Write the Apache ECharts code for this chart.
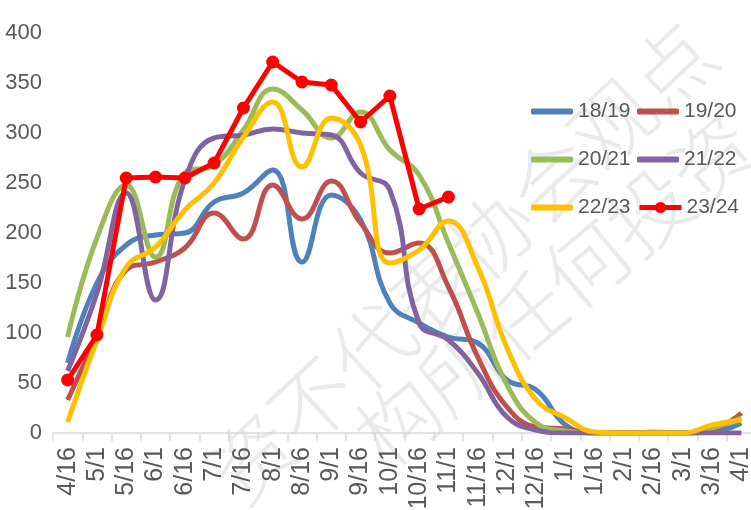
<!DOCTYPE html>
<html>
<head>
<meta charset="utf-8">
<script src="https://cdn.jsdelivr.net/npm/echarts@6/dist/echarts.min.js"></script>
<style>
body{margin:0;background:#fff;}
#chart{width:751px;height:510px;}
</style>
</head>
<body>
<div id="chart"></div>
<script>
// categories (half-month points)
var categories = ['4/16','5/1','5/16','6/1','6/16','7/1','7/16','8/1','8/16','9/1','9/16','10/1','10/16','11/1','11/16','12/1','12/16','1/1','1/16','2/1','2/16','3/1','3/16','4/1'];
var yTicks = [0, 50, 100, 150, 200, 250, 300, 350, 400];

var s1819 = [70,150,188,198,200,231,240,263,171,238,213,130,110,96,90,53,43,8,0,0,0,0,1,10];
var s1920 = [33,97,163,171,185,220,194,248,214,252,210,180,190,146,76,26,6,4,0,0,0,0,3,20];
var s2021 = [96,195,248,176,260,268,303,344,323,295,321,283,258,190,120,48,10,2,0,0,1,0,5,15];
var s2122 = [62,140,240,133,253,295,298,304,300,298,260,243,110,93,60,16,3,0,0,0,0,0,0,0];
var s2223 = [11,93,166,186,223,250,296,331,266,315,288,170,183,212,166,85,33,15,1,0,0,0,8,13];
var s2324 = [53,98,255,256,255,270,325,371,351,348,311,337,224,236];

var watermark1 = '资不代表协会观点';
var watermark2 = '构所任何投资';

var fontFam = "'Liberation Sans', sans-serif";
var txt = '#595959';

function smoothLine(name, data, color) {
    return {
        name: name,
        type: 'line',
        data: data,
        smooth: 0.45,
        symbol: 'none',
        lineStyle: {width: 5, color: color},
        itemStyle: {color: color}
    };
}

function legendAt(left, top, name, h, icon) {
    var lg = {
        left: left,
        top: top,
        data: [name],
        itemWidth: 42,
        itemHeight: h,
        itemGap: 0,
        textStyle: {color: txt, fontSize: 21, fontFamily: fontFam}
    };
    if (icon) lg.icon = icon;
    else lg.lineStyle = {width: 5};
    return lg;
}

var myChart = echarts.init(document.getElementById('chart'));
myChart.setOption({
    animation: false,
    grid: {left: 53, right: -5, top: 33, bottom: 77, outerBoundsMode: 'none'},
    legend: [
        legendAt(526, 96, '18/19', 6, 'roundRect'), legendAt(632, 96, '19/20', 6, 'roundRect'),
        legendAt(526, 144, '20/21', 6, 'roundRect'), legendAt(632, 144, '21/22', 6, 'roundRect'),
        legendAt(526, 192, '22/23', 6, 'roundRect'), legendAt(632, 192, '23/24', 14)
    ],
    graphic: [
        {
            type: 'text', x: 462, y: 262, rotation: 43 * Math.PI / 180, silent: true, z: -1,
            style: {text: watermark1, fontSize: 82, fontFamily: 'Noto Sans CJK SC', fontWeight: 300,
                fill: 'rgba(160,160,160,0.22)', align: 'center', verticalAlign: 'middle'}
        },
        {
            type: 'text', x: 555, y: 290, rotation: 40 * Math.PI / 180, silent: true, z: -1,
            style: {text: watermark2, fontSize: 82, fontFamily: 'Noto Sans CJK SC', fontWeight: 300,
                fill: 'rgba(160,160,160,0.22)', align: 'center', verticalAlign: 'middle'}
        }
    ],
    xAxis: {
        type: 'category',
        data: categories,
        boundaryGap: true,
        axisLine: {lineStyle: {color: '#D9D9D9', width: 1.5}},
        axisTick: {show: true, length: 8, lineStyle: {color: '#D9D9D9', width: 1.5}},
        axisLabel: {rotate: 90, color: txt, fontSize: 25, fontFamily: fontFam, margin: 14, interval: 0}
    },
    yAxis: {
        type: 'value',
        min: yTicks[0],
        max: yTicks[yTicks.length - 1],
        interval: 50,
        axisLine: {show: false},
        axisTick: {show: false},
        splitLine: {show: false},
        axisLabel: {color: txt, fontSize: 22, fontFamily: fontFam, margin: 11}
    },
    series: [
        smoothLine('18/19', s1819, '#4F81BD'),
        smoothLine('19/20', s1920, '#C0504D'),
        smoothLine('20/21', s2021, '#9BBB59'),
        smoothLine('21/22', s2122, '#8064A2'),
        smoothLine('22/23', s2223, '#FFC000'),
        {
            name: '23/24',
            type: 'line',
            data: s2324,
            symbol: 'circle',
            symbolSize: 13,
            lineStyle: {width: 5, color: '#FF0000'},
            itemStyle: {color: '#FF0000'}
        }
    ]
});
</script>
</body>
</html>
